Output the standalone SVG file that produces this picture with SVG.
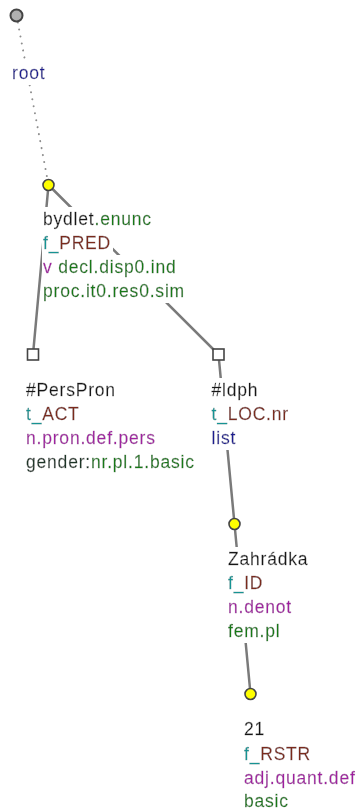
<svg xmlns="http://www.w3.org/2000/svg" width="357" height="811" viewBox="0 0 357 811">
<style>
  text { font-family: "Liberation Sans", Arial, sans-serif; font-size: 17.5px; letter-spacing: 0.8px; fill: #151515; stroke: #151515; stroke-width: 0.3px; }
  .bg { filter: url(#bg); }
  .edge { stroke: #7a7a7a; stroke-width: 2.5; fill: none; stroke-linecap: round; }
  .dotted { stroke: #8e8e8e; stroke-width: 2; fill: none; stroke-dasharray: 0.1 7; stroke-linecap: round; }
  .yel { fill: #ffff00; stroke: #444444; stroke-width: 1.6; }
  .rootc { fill: #b0b0b0; stroke: #444444; stroke-width: 2; }
  .sq { fill: #ffffff; stroke: #444444; stroke-width: 1.6; }
  .navy { fill: #1e1e90; stroke: #1e1e90; }
  .grn { fill: #197a19; stroke: #197a19; }
  .teal { fill: #149494; stroke: #149494; }
  .brn { fill: #7a2a1c; stroke: #7a2a1c; }
  .pur { fill: #a020a0; stroke: #a020a0; }
  .dk { fill: #1d3528; stroke: #1d3528; }
</style>
<defs>
  <filter id="bg" x="-0.005" y="-0.1" width="1.03" height="1.2">
    <feFlood flood-color="#ffffff"/>
    <feComposite in="SourceGraphic"/>
  </filter>
</defs>
<rect width="357" height="811" fill="#ffffff"/>
<g id="connectors">
  <line class="dotted" x1="16.5" y1="15.5" x2="48.5" y2="185"/>
  <line class="edge" x1="48.5" y1="185" x2="33" y2="354.5"/>
  <line class="edge" x1="48.5" y1="185" x2="218.5" y2="354.5"/>
  <line class="edge" x1="218.5" y1="354.5" x2="234.5" y2="524"/>
  <line class="edge" x1="234.5" y1="524" x2="250.5" y2="694"/>
</g>
<g id="node-root">
  <circle class="rootc" cx="16.5" cy="15.5" r="6"/>
  <text class="bg navy" x="12" y="79">root</text>
</g>
<g id="node-bydlet">
  <circle class="yel" cx="48.5" cy="185" r="5.5"/>
  <text class="bg" x="43" y="225">bydlet<tspan class="grn">.enunc</tspan></text>
  <text class="bg" x="43" y="249"><tspan class="teal">f_</tspan><tspan class="brn">PRED</tspan></text>
  <text class="bg" x="43" y="273"><tspan class="pur">v</tspan><tspan class="grn"> decl.disp0.ind</tspan></text>
  <text class="bg grn" x="43" y="297">proc.it0.res0.sim</text>
</g>
<g id="node-perspron">
  <rect class="sq" x="27.5" y="349" width="11" height="11"/>
  <text class="bg" x="26" y="396">#PersPron</text>
  <text class="bg" x="26" y="420"><tspan class="teal">t_</tspan><tspan class="brn">ACT</tspan></text>
  <text class="bg pur" x="26" y="444">n.pron.def.pers</text>
  <text class="bg" x="26" y="468"><tspan class="dk">gender:</tspan><tspan class="grn">nr.pl.1.basic</tspan></text>
</g>
<g id="node-ldph">
  <rect class="sq" x="213" y="349" width="11" height="11"/>
  <text class="bg" x="211.5" y="396">#ldph</text>
  <text class="bg" x="211.5" y="420"><tspan class="teal">t_</tspan><tspan class="brn">LOC.nr</tspan></text>
  <text class="bg navy" x="211.5" y="444">list</text>
</g>
<g id="node-zahradka">
  <circle class="yel" cx="234.5" cy="524" r="5.5"/>
  <text class="bg" x="228" y="565">Zahrádka</text>
  <text class="bg" x="228" y="589"><tspan class="teal">f_</tspan><tspan class="brn">ID</tspan></text>
  <text class="bg pur" x="228" y="613">n.denot</text>
  <text class="bg grn" x="228" y="637">fem.pl</text>
</g>
<g id="node-21">
  <circle class="yel" cx="250.5" cy="694" r="5.5"/>
  <text class="bg" x="244" y="735">21</text>
  <text class="bg" x="244" y="760"><tspan class="teal">f_</tspan><tspan class="brn">RSTR</tspan></text>
  <text class="bg pur" x="244" y="784">adj.quant.def</text>
  <text class="bg grn" x="244" y="807">basic</text>
</g>
</svg>
